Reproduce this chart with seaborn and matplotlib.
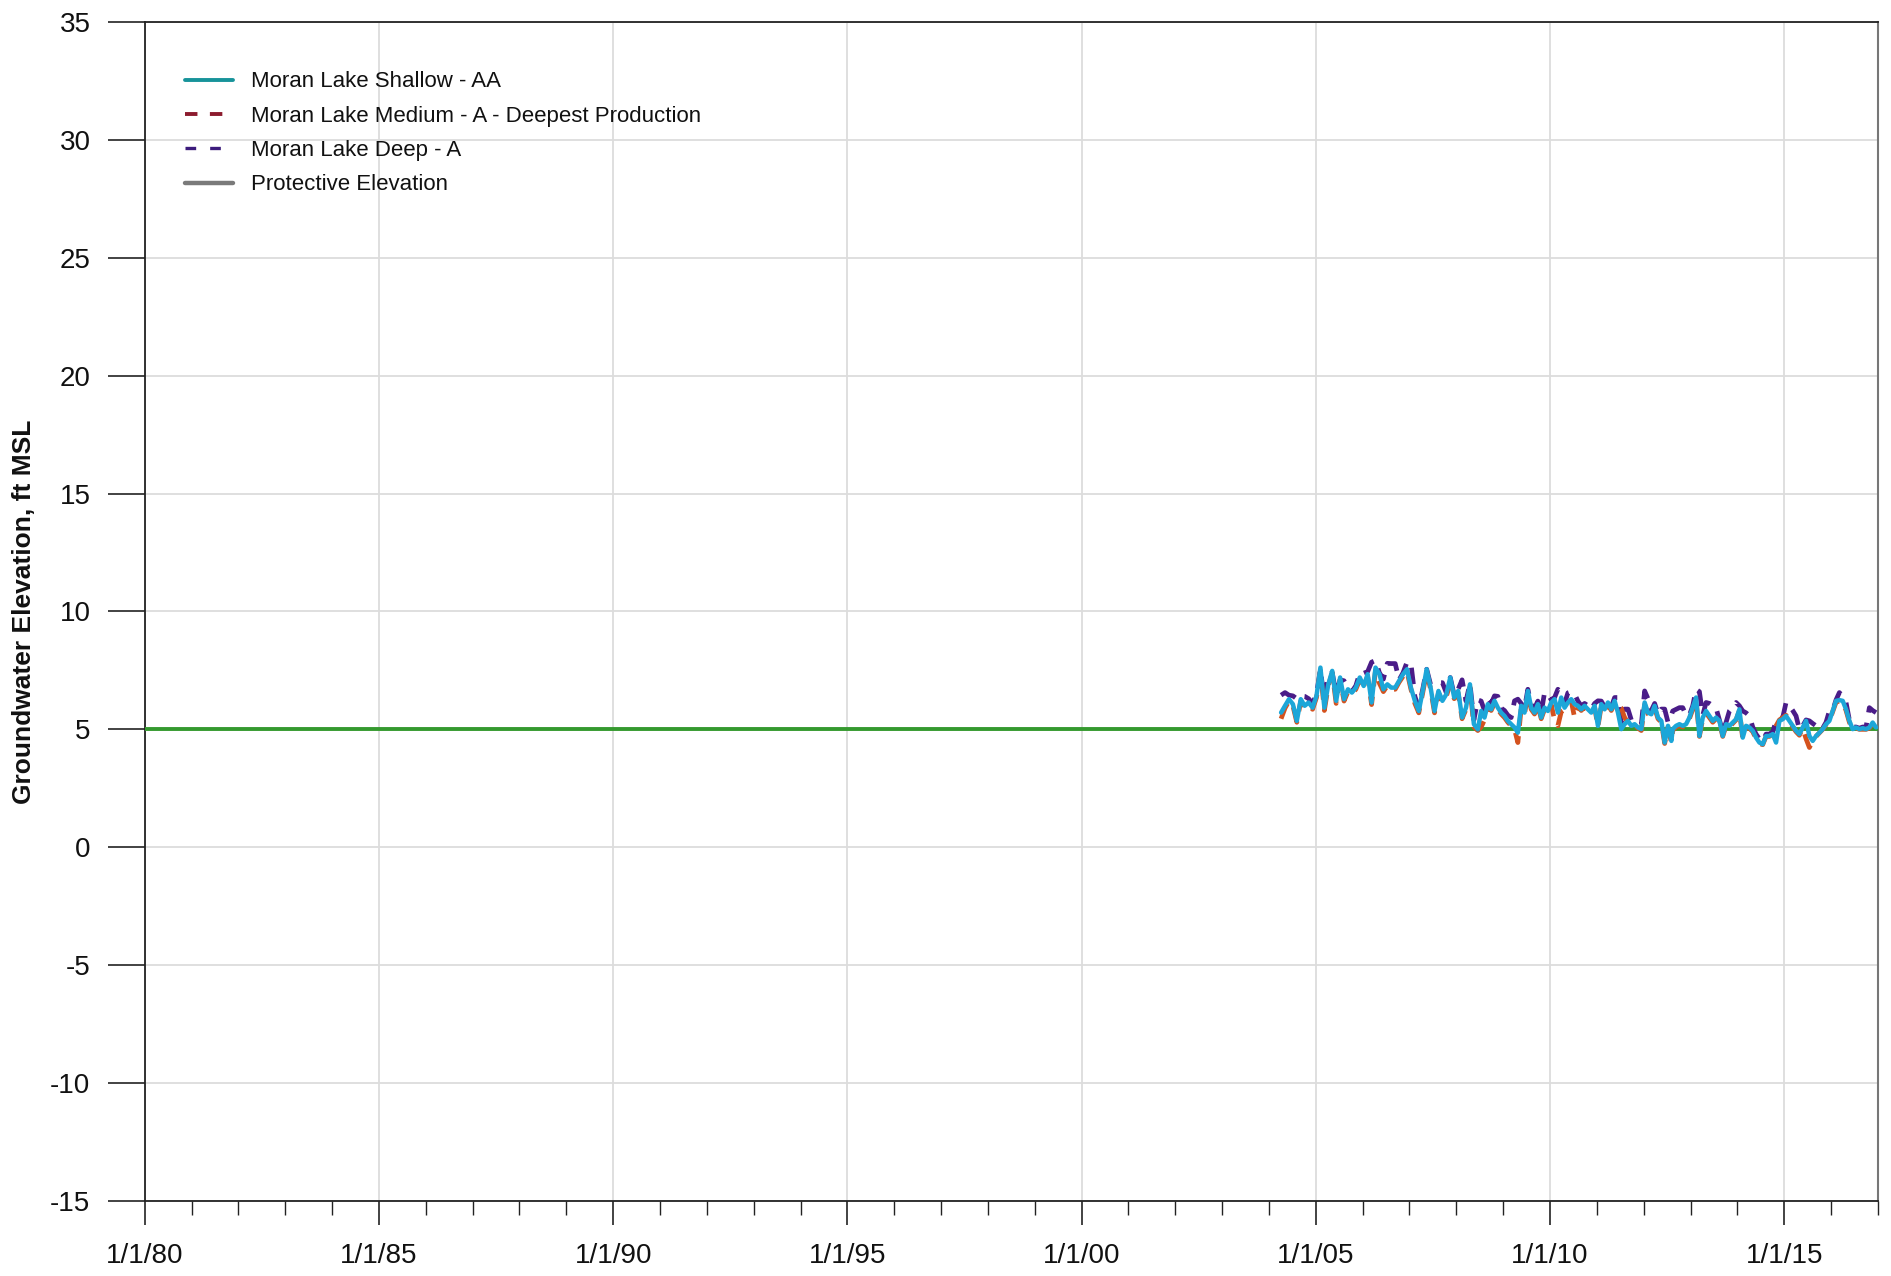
import numpy as np
import pandas as pd
import matplotlib
matplotlib.use("Agg")
import matplotlib.pyplot as plt
import matplotlib.dates as mdates
from matplotlib.lines import Line2D
from matplotlib.ticker import FixedLocator, FixedFormatter
import seaborn as sns

# ---------------- data ----------------
seg_bounds = [("2004-04-05", "2008-06-17"),
              ("2008-07-13", "2012-08-04"),
              ("2012-08-15", "2016-12-17")]

shallow_1 = [5.71, 6.00, 6.28, 6.07, 5.36, 6.28, 6.00, 6.14, 5.92, 6.42, 7.62, 5.92, 6.91, 7.48, 6.21, 7.20, 6.28,
             6.70, 6.56, 6.77, 7.20, 6.84, 7.34, 6.14, 7.62, 7.34, 6.70, 6.91, 6.77, 6.77, 7.06, 7.34, 7.55, 6.77,
             6.21, 5.78, 6.63, 7.55, 6.77, 5.78, 6.63, 6.21, 6.49, 7.20, 6.35, 6.63, 5.50, 5.92, 6.91, 5.22, 5.00]
shallow_2 = [5.78, 5.50, 6.07, 5.85, 6.21, 5.92, 5.71, 5.57, 5.36, 5.22, 5.08, 4.86, 6.00, 5.71, 6.63, 5.92, 5.71,
             6.07, 5.50, 5.92, 5.78, 6.14, 6.28, 5.71, 6.35, 5.92, 6.14, 6.28, 6.07, 6.00, 5.85, 6.00, 5.85, 5.71,
             6.00, 5.15, 6.07, 5.85, 6.14, 5.85, 6.21, 5.71, 5.01, 5.22, 5.36, 5.15, 5.22, 5.08, 5.01, 6.14, 5.71,
             5.64, 6.00, 5.50, 5.36, 4.44, 5.15, 4.51]
shallow_3 = [5.01, 5.15, 5.22, 5.15, 5.22, 5.50, 5.92, 6.35, 4.72, 5.50, 5.78, 5.57, 5.36, 5.50, 5.36, 4.72, 5.22,
             5.15, 5.29, 5.43, 5.85, 4.65, 5.15, 5.08, 4.94, 4.65, 4.44, 4.37, 4.72, 4.72, 4.80, 4.44, 5.36, 5.43,
             5.57, 5.36, 5.15, 4.94, 4.80, 5.08, 5.36, 4.72, 4.51, 4.72, 4.86, 5.01, 5.22, 5.36, 5.78, 6.21, 6.24,
             6.21, 5.85, 5.36, 5.01, 5.08, 5.01, 5.05, 5.01, 5.08, 5.29, 5.08]

medium_1 = [5.45, 5.90, 6.20, 6.00, 5.30, 6.20, 5.95, 6.05, 5.85, 6.35, 7.50, 5.80, 6.85, 7.40, 6.10, 7.10, 6.20,
            6.60, 6.50, 6.70, 7.10, 6.75, 7.25, 6.05, 7.50, 6.95, 6.60, 6.85, 6.70, 6.70, 7.00, 7.25, 7.45, 6.70,
            6.10, 5.70, 6.55, 7.45, 6.70, 5.70, 6.55, 6.15, 6.40, 6.95, 6.30, 6.55, 5.45, 5.85, 6.80, 5.10, 4.95]
medium_2 = [5.10, 5.40, 5.95, 5.80, 6.10, 5.85, 5.65, 5.50, 5.30, 5.15, 5.00, 4.44, 5.90, 5.65, 6.50, 5.85, 5.65,
            6.00, 5.45, 5.85, 5.70, 6.05, 5.40, 5.15, 5.75, 5.85, 6.05, 6.20, 5.50, 5.95, 5.80, 5.95, 5.75, 5.65,
            5.95, 5.10, 6.00, 5.80, 6.05, 5.80, 6.10, 6.00, 5.90, 5.50, 5.30, 5.10, 5.15, 5.05, 4.95, 6.05, 5.65,
            5.55, 5.90, 5.45, 5.30, 4.40, 5.10, 4.45]
medium_3 = [4.95, 5.10, 5.15, 5.10, 5.15, 5.45, 5.85, 6.25, 4.70, 5.45, 5.70, 5.50, 5.30, 5.45, 5.30, 4.70, 5.15,
            5.10, 5.25, 5.40, 5.80, 4.60, 5.10, 5.05, 4.90, 4.60, 4.40, 4.35, 4.70, 4.70, 4.80, 5.15, 5.40, 5.50,
            5.60, 5.35, 5.10, 4.90, 4.75, 5.05, 4.60, 4.23, 4.50, 4.70, 4.85, 5.00, 5.20, 5.35, 5.75, 6.15, 6.20,
            6.15, 5.80, 5.30, 5.00, 5.05, 5.00, 5.00, 5.00, 5.05, 5.25, 5.05]

deep_1 = [6.45, 6.56, 6.45, 6.42, 6.30, 6.42, 6.40, 6.30, 6.10, 6.50, 7.55, 6.20, 7.34, 7.40, 6.50, 7.10, 7.06,
          6.75, 6.60, 6.85, 7.40, 7.38, 7.45, 7.85, 7.92, 7.40, 7.13, 7.80, 7.79, 7.79, 7.10, 7.40, 7.85, 7.80,
          6.40, 5.90, 6.70, 7.55, 6.90, 6.98, 6.98, 6.98, 6.55, 7.20, 6.45, 6.70, 7.10, 6.20, 6.95, 5.40, 6.25]
deep_2 = [6.20, 5.80, 6.30, 6.10, 6.42, 6.40, 5.90, 5.80, 5.60, 5.50, 6.21, 6.28, 6.10, 5.90, 6.70, 6.05, 5.90,
          6.20, 5.70, 6.56, 6.50, 6.25, 6.35, 6.70, 6.55, 6.10, 6.55, 6.60, 6.50, 6.20, 6.00, 6.10, 6.00, 5.85,
          6.10, 6.21, 6.20, 5.95, 6.20, 5.95, 6.35, 6.35, 5.30, 5.86, 5.86, 5.40, 5.35, 5.20, 5.20, 6.63, 6.30,
          5.80, 6.10, 5.65, 5.86, 5.86, 5.30, 5.60]
deep_3 = [5.78, 5.85, 5.92, 5.92, 5.60, 5.60, 6.00, 6.70, 6.60, 5.60, 6.14, 6.10, 6.00, 5.90, 5.40, 4.90, 5.30,
          5.78, 5.95, 6.14, 6.00, 5.78, 5.70, 5.57, 5.10, 4.80, 4.60, 4.50, 4.80, 4.80, 4.90, 5.36, 5.45, 5.50,
          6.14, 6.00, 5.80, 5.57, 5.00, 5.15, 5.40, 5.36, 5.25, 5.15, 4.95, 5.05, 5.30, 5.78, 5.80, 6.25, 6.56,
          6.40, 6.14, 5.40, 5.10, 5.10, 5.05, 5.10, 5.10, 5.92, 5.80, 5.71]

protective_dates = ["1980-01-01", "2017-01-01"]
protective_values = [5.0, 5.0]

series_labels = ["Moran Lake Shallow - AA",
                 "Moran Lake Medium - A - Deepest Production",
                 "Moran Lake Deep - A",
                 "Protective Elevation"]

xtick_years = [1980, 1985, 1990, 1995, 2000, 2005, 2010, 2015]
xtick_labels = ["1/1/80", "1/1/85", "1/1/90", "1/1/95", "1/1/00", "1/1/05", "1/1/10", "1/1/15"]
yticks = [-15, -10, -5, 0, 5, 10, 15, 20, 25, 30, 35]
ylabel = "Groundwater Elevation, ft MSL"


def build(segments):
    frames = []
    for (s, e), vals in zip(seg_bounds, segments):
        d = pd.date_range(s, e, periods=len(vals))
        frames.append(pd.DataFrame({"date": d, "value": vals}))
    return pd.concat(frames, ignore_index=True)


df_shallow = build([shallow_1, shallow_2, shallow_3])
df_medium = build([medium_1, medium_2, medium_3])
df_deep = build([deep_1, deep_2, deep_3])
df_prot = pd.DataFrame({"date": pd.to_datetime(protective_dates), "value": protective_values})

# ---------------- style ----------------
sns.set_theme(style="white")
plt.rcParams["font.family"] = ["Liberation Sans", "DejaVu Sans"]

fig = plt.figure(figsize=(18.91, 12.76), dpi=100)
ax = fig.add_axes([0.0765, 0.0588, 0.9166, 0.924])

c_shallow = "#1CA6D8"
c_medium = "#D4521E"
c_deep = "#4A1C88"
c_prot = "#34992E"

sns.lineplot(data=df_prot, x="date", y="value", ax=ax, color=c_prot, lw=2.8, legend=False, zorder=3)
sns.lineplot(data=df_deep, x="date", y="value", ax=ax, color=c_deep, lw=3.4, legend=False, zorder=4)
ax.lines[-1].set_dashes((3.5, 2.2))
sns.lineplot(data=df_medium, x="date", y="value", ax=ax, color=c_medium, lw=3.4, legend=False, zorder=5)
ax.lines[-1].set_dashes((3.5, 2.2))
sns.lineplot(data=df_shallow, x="date", y="value", ax=ax, color=c_shallow, lw=3.2, legend=False, zorder=6)

ax.set_xlim(pd.Timestamp("1980-01-01"), pd.Timestamp("2017-01-01"))
ax.set_ylim(-15, 35)

major_dates = [mdates.date2num(pd.Timestamp(f"{y}-01-01")) for y in xtick_years]
minor_dates = [mdates.date2num(pd.Timestamp(f"{y}-01-01")) for y in range(1980, 2018)]
ax.xaxis.set_major_locator(FixedLocator(major_dates))
ax.xaxis.set_major_formatter(FixedFormatter(xtick_labels))
ax.xaxis.set_minor_locator(FixedLocator(minor_dates))
ax.set_yticks(yticks)
ax.set_yticklabels([str(v) for v in yticks])

ax.grid(True, which="major", color="#dcdcdc", lw=1.3)
ax.set_axisbelow(True)

ax.tick_params(axis="y", which="major", direction="out", length=27, width=1.2, color="#222222",
               labelsize=20, pad=12, left=True, labelcolor="#111111")
ax.tick_params(axis="x", which="major", direction="out", length=17, width=1.2, color="#222222",
               labelsize=20, pad=13, bottom=True, labelcolor="#111111")
ax.tick_params(axis="x", which="minor", direction="out", length=10, width=1.0, color="#222222", bottom=True)

for side in ["left", "bottom", "top"]:
    ax.spines[side].set_color("#222222")
    ax.spines[side].set_linewidth(1.3)
ax.spines["right"].set_color("#777777")
ax.spines["right"].set_linewidth(1.5)

ax.set_xlabel("")
ax.set_ylabel(ylabel, fontsize=19, fontweight="bold", labelpad=10, color="#111111")

handles = [
    Line2D([], [], color="#17939A", lw=2.8),
    Line2D([], [], color="#8C1B2E", lw=2.8, dashes=(3.2, 3.2)),
    Line2D([], [], color="#3C1B7C", lw=2.4, dashes=(3.2, 4.2)),
    Line2D([], [], color="#7A7A7A", lw=3.2),
]
ax.legend(handles, series_labels, loc="upper left", bbox_to_anchor=(0.012, 0.975), frameon=False,
          fontsize=16, handlelength=2.15, handletextpad=0.8, labelspacing=0.6, labelcolor="#111111")

fig.savefig("out.png", dpi=100)
